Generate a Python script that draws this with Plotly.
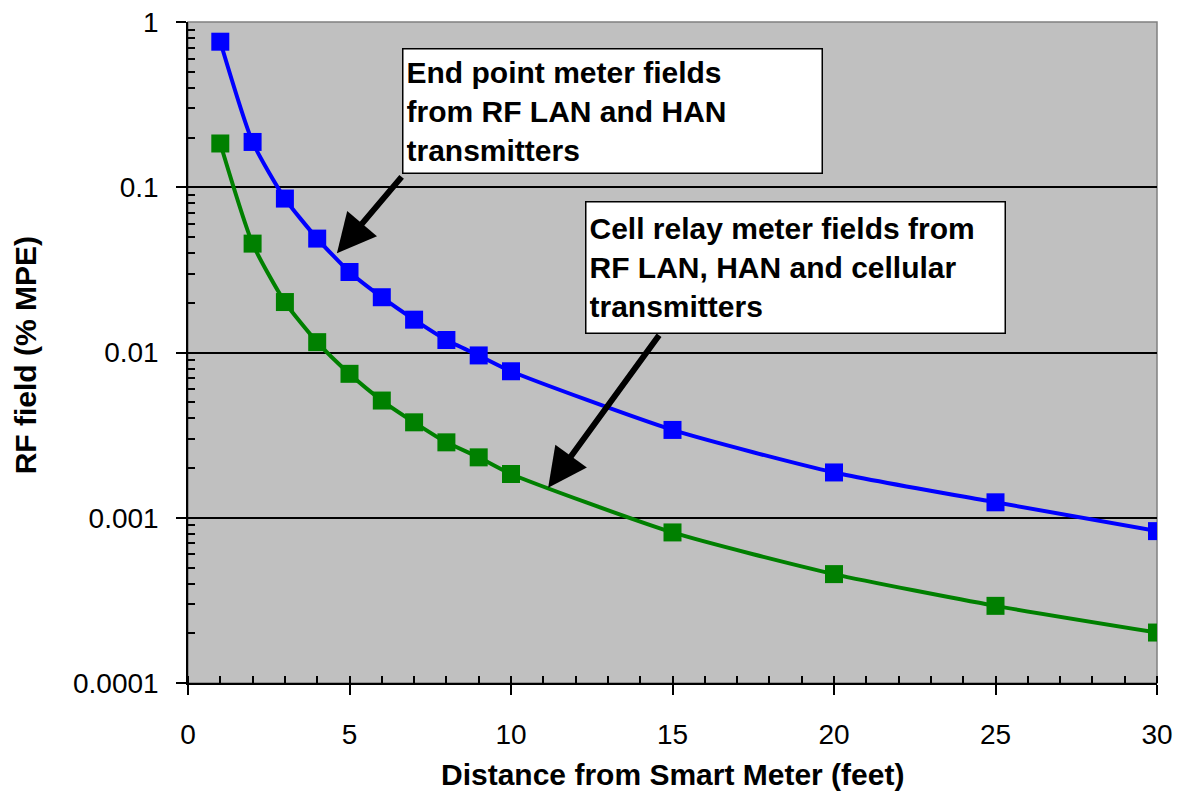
import plotly.graph_objects as go

# ---- data ----
distance_ft = [1, 2, 3, 4, 5, 6, 7, 8, 9, 10, 15, 20, 25, 30]
endpoint_mpe = [0.76, 0.188, 0.0854, 0.0489, 0.0307, 0.0216, 0.0158, 0.0119,
                0.0096, 0.0077, 0.0034, 0.00188, 0.00124, 0.00083]
cellrelay_mpe = [0.184, 0.0456, 0.0202, 0.01155, 0.00743, 0.00512, 0.00378,
                 0.00286, 0.00232, 0.00184, 0.000815, 0.000456, 0.000293, 0.000202]

x_ticks = [0, 5, 10, 15, 20, 25, 30]
y_ticks = [1, 0.1, 0.01, 0.001, 0.0001]
y_ticktext = ["1", "0.1", "0.01", "0.001", "0.0001"]

x_title = "Distance from Smart Meter (feet)"
y_title = "RF field (% MPE)"
label_endpoint = "End point meter fields<br>from RF LAN and HAN<br>transmitters"
label_cell = "Cell relay meter fields from<br>RF LAN, HAN and cellular<br>transmitters"

FONT = "Liberation Sans, Arial, sans-serif"

y_minor = [m * 10.0 ** e for e in range(-4, 0) for m in range(2, 10)]

fig = go.Figure()

fig.add_trace(go.Scatter(
    x=distance_ft, y=endpoint_mpe, mode="lines+markers",
    line=dict(color="#0000FF", width=4, shape="spline", smoothing=0.6),
    marker=dict(symbol="square", size=18, color="#0000FF"),
    showlegend=False, name="End point"))
fig.add_trace(go.Scatter(
    x=distance_ft, y=cellrelay_mpe, mode="lines+markers",
    line=dict(color="#008000", width=4, shape="spline", smoothing=0.6),
    marker=dict(symbol="square", size=18, color="#008000"),
    showlegend=False, name="Cell relay"))

# dummy traces so overlay axes (inner halves of major ticks) are drawn
fig.add_trace(go.Scatter(x=[], y=[], xaxis="x2", yaxis="y", showlegend=False, hoverinfo="skip"))
fig.add_trace(go.Scatter(x=[], y=[], xaxis="x", yaxis="y2", showlegend=False, hoverinfo="skip"))

fig.update_layout(
    width=1177, height=808,
    margin=dict(l=188, r=20, t=22, b=125, autoexpand=False),
    paper_bgcolor="white",
    plot_bgcolor="#C0C0C0",
    font=dict(family=FONT, size=28, color="black"),
    xaxis=dict(
        range=[0, 30], tickmode="array", tickvals=x_ticks,
        ticks="outside", ticklen=10, tickwidth=1.5, tickcolor="black",
        showline=True, linecolor="black", linewidth=1.5,
        showgrid=False, zeroline=False, ticklabeloverflow="allow",
        tickfont=dict(size=28, family=FONT), ticklabelstandoff=16,
        minor=dict(tickmode="linear", dtick=1, ticks="inside", ticklen=7,
                   tickwidth=1.5, tickcolor="black", showgrid=False),
    ),
    xaxis2=dict(
        overlaying="x", anchor="y", side="bottom", range=[0, 30],
        tickmode="array", tickvals=x_ticks, ticks="inside", ticklen=7,
        tickwidth=1.5, tickcolor="black", showticklabels=False,
        showline=False, showgrid=False, zeroline=False,
    ),
    yaxis=dict(
        type="log", range=[-4, 0], tickmode="array", tickvals=y_ticks,
        ticktext=y_ticktext,
        ticks="outside", ticklen=10, tickwidth=1.5, tickcolor="black",
        showline=True, linecolor="black", linewidth=1.5,
        showgrid=True, gridcolor="black", gridwidth=1.5, zeroline=False,
        ticklabeloverflow="allow",
        tickfont=dict(size=28, family=FONT), ticklabelstandoff=12,
        minor=dict(tickmode="array", tickvals=y_minor, ticks="inside", ticklen=7,
                   tickwidth=1.5, tickcolor="black", showgrid=False),
    ),
    yaxis2=dict(
        overlaying="y", anchor="x", side="left", type="log", range=[-4, 0],
        tickmode="array", tickvals=y_ticks, ticks="inside", ticklen=7,
        tickwidth=1.5, tickcolor="black", showticklabels=False,
        showline=False, showgrid=False, zeroline=False,
    ),
    shapes=[
        dict(type="rect", xref="paper", yref="paper", x0=0, x1=1, y0=0, y1=1,
             line=dict(color="#808080", width=1.5), layer="below"),
    ],
)

annotations = [
    # axis titles
    dict(text=f"<b>{x_title}</b>", xref="paper", yref="paper", x=0.5, y=-0.139,
         xanchor="center", yanchor="middle", showarrow=False,
         font=dict(size=30, family=FONT)),
    dict(text=f"<b>{y_title}</b>", xref="paper", yref="paper", x=-0.168, y=0.496,
         xanchor="center", yanchor="middle", textangle=-90, showarrow=False,
         font=dict(size=30, family=FONT)),
    # label boxes
    dict(text=f"<b>{label_endpoint}</b>", xref="paper", yref="paper",
         x=0.2208, y=0.9607, xanchor="left", yanchor="top", align="left",
         showarrow=False, bgcolor="white", bordercolor="black", borderwidth=1.5,
         borderpad=3, width=412, height=117,
         font=dict(size=30, family=FONT)),
    dict(text=f"<b>{label_cell}</b>", xref="paper", yref="paper",
         x=0.4097, y=0.7292, xanchor="left", yanchor="top", align="left",
         showarrow=False, bgcolor="white", bordercolor="black", borderwidth=1.5,
         borderpad=3, width=412, height=124,
         font=dict(size=30, family=FONT)),
    # arrows (tip at data point, tail offset in pixels)
    dict(text="", x=4.61, y=-1.40, xref="x", yref="y", showarrow=True,
         ax=66, ay=-78, arrowhead=2, arrowsize=1.3, arrowwidth=6, arrowcolor="black"),
    dict(text="", x=11.15, y=-2.818, xref="x", yref="y", showarrow=True,
         ax=112, ay=-154, arrowhead=2, arrowsize=1.3, arrowwidth=6, arrowcolor="black"),
]
fig.update_layout(annotations=annotations)

fig.write_html(
    "out.html",
    config={"displayModeBar": False},
    post_script="document.body.style.margin='0';document.body.style.overflow='hidden';",
)
